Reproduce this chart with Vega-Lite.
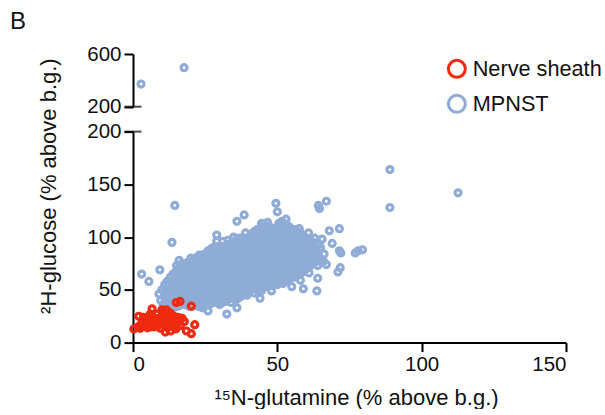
{"$schema":"https://vega.github.io/schema/vega-lite/v6.json","background":"white","padding":{"left":9,"top":10,"right":0,"bottom":0},"bounds":"flush",
"title":{"text":"B","anchor":"start","frame":"bounds","fontSize":24,"font":"Liberation Sans","fontWeight":"normal","color":"#111","offset":10,"dx":-27},
"config":{"view":{"stroke":null},"font":"Liberation Sans","axis":{"grid":false,"domainColor":"#000","tickColor":"#000","domainWidth":2,"tickWidth":2,"tickSize":9,"labelFontSize":20.5,"labelColor":"#111","titleColor":"#111","labelFont":"Liberation Sans","titleFont":"Liberation Sans","titleFontWeight":"normal","titleFontSize":22,"labelPadding":3}},
"datasets":{"pts":[
{"g":"MPNST","x":2.8,"y":372},{"g":"MPNST","x":17.7,"y":496},{"g":"MPNST","x":89,"y":164},{"g":"MPNST","x":89,"y":128},{"g":"MPNST","x":112.6,"y":142},{"g":"MPNST","x":3,"y":65},{"g":"MPNST","x":5.5,"y":58},{"g":"MPNST","x":9.3,"y":69},{"g":"MPNST","x":13.5,"y":95},{"g":"MPNST","x":14.5,"y":130},{"g":"MPNST","x":49.5,"y":132},{"g":"MPNST","x":50,"y":124},{"g":"MPNST","x":64.2,"y":130},{"g":"MPNST","x":64.6,"y":127},{"g":"MPNST","x":67,"y":134},{"g":"MPNST","x":38.5,"y":121},{"g":"MPNST","x":36,"y":115},{"g":"MPNST","x":39,"y":104},{"g":"MPNST","x":71.5,"y":108},{"g":"MPNST","x":68,"y":106},{"g":"MPNST","x":69,"y":94},{"g":"MPNST","x":71.5,"y":87},{"g":"MPNST","x":72,"y":85},{"g":"MPNST","x":77,"y":85},{"g":"MPNST","x":78,"y":87},{"g":"MPNST","x":79.5,"y":88},{"g":"MPNST","x":71.8,"y":71},{"g":"MPNST","x":71,"y":67},{"g":"MPNST","x":64,"y":61},{"g":"MPNST","x":63.7,"y":49},{"g":"MPNST","x":59,"y":51},{"g":"MPNST","x":61,"y":66},{"g":"MPNST","x":55,"y":53},{"g":"MPNST","x":48,"y":49},{"g":"MPNST","x":44,"y":42},{"g":"MPNST","x":44.5,"y":49},{"g":"MPNST","x":39.5,"y":45},{"g":"MPNST","x":36,"y":33},{"g":"MPNST","x":32.5,"y":27},{"g":"MPNST","x":26,"y":30},{"g":"MPNST","x":34,"y":38},{"g":"MPNST","x":29,"y":102},{"g":"MPNST","x":31,"y":96},{"g":"MPNST","x":16,"y":78},
{"g":"MPNST","x":9,"y":46},{"g":"MPNST","x":9.6,"y":40},{"g":"MPNST","x":10,"y":50},{"g":"MPNST","x":10.4,"y":36},{"g":"MPNST","x":11,"y":44},
{"g":"MPNST","x":12,"y":34},{"g":"MPNST","x":11.6,"y":39},{"g":"MPNST","x":12.2,"y":48},{"g":"MPNST","x":12.4,"y":53},{"g":"MPNST","x":11.8,"y":58},{"g":"MPNST","x":13,"y":43},
{"g":"MPNST","x":14,"y":33},{"g":"MPNST","x":14.2,"y":38},{"g":"MPNST","x":13.8,"y":47},{"g":"MPNST","x":14.3,"y":51},{"g":"MPNST","x":14,"y":55},{"g":"MPNST","x":14.4,"y":60},{"g":"MPNST","x":13.9,"y":65},{"g":"MPNST","x":15,"y":42},
{"g":"MPNST","x":16,"y":35},{"g":"MPNST","x":16.2,"y":39},{"g":"MPNST","x":16.4,"y":46},{"g":"MPNST","x":15.8,"y":50},{"g":"MPNST","x":16.1,"y":54},{"g":"MPNST","x":16.3,"y":58},{"g":"MPNST","x":15.9,"y":62},{"g":"MPNST","x":16.2,"y":66},{"g":"MPNST","x":16,"y":71},
{"g":"MPNST","x":18,"y":36},{"g":"MPNST","x":18.3,"y":41},{"g":"MPNST","x":17.8,"y":44},{"g":"MPNST","x":18.2,"y":48},{"g":"MPNST","x":18,"y":52},{"g":"MPNST","x":18.4,"y":56},{"g":"MPNST","x":17.9,"y":60},{"g":"MPNST","x":18.2,"y":64},{"g":"MPNST","x":18,"y":68},{"g":"MPNST","x":18.3,"y":73},
{"g":"MPNST","x":20,"y":34},{"g":"MPNST","x":20.2,"y":38},{"g":"MPNST","x":19.8,"y":42},{"g":"MPNST","x":20.3,"y":46},{"g":"MPNST","x":20,"y":50},{"g":"MPNST","x":19.8,"y":54},{"g":"MPNST","x":20.2,"y":58},{"g":"MPNST","x":20,"y":62},{"g":"MPNST","x":20.4,"y":66},{"g":"MPNST","x":19.9,"y":70},{"g":"MPNST","x":20.1,"y":74},{"g":"MPNST","x":20,"y":80},
{"g":"MPNST","x":22,"y":35},{"g":"MPNST","x":22.3,"y":40},{"g":"MPNST","x":21.8,"y":44},{"g":"MPNST","x":22.1,"y":48},{"g":"MPNST","x":22.4,"y":52},{"g":"MPNST","x":21.9,"y":56},{"g":"MPNST","x":22.2,"y":60},{"g":"MPNST","x":22,"y":64},{"g":"MPNST","x":22.3,"y":68},{"g":"MPNST","x":21.8,"y":72},{"g":"MPNST","x":22.1,"y":76},{"g":"MPNST","x":22.2,"y":81},
{"g":"MPNST","x":24,"y":33},{"g":"MPNST","x":24.2,"y":38},{"g":"MPNST","x":23.8,"y":42},{"g":"MPNST","x":24.3,"y":46},{"g":"MPNST","x":24,"y":50},{"g":"MPNST","x":24.2,"y":54},{"g":"MPNST","x":23.8,"y":58},{"g":"MPNST","x":24.1,"y":62},{"g":"MPNST","x":24.4,"y":66},{"g":"MPNST","x":23.9,"y":70},{"g":"MPNST","x":24.2,"y":74},{"g":"MPNST","x":24,"y":78},{"g":"MPNST","x":24.1,"y":83},
{"g":"MPNST","x":26,"y":36},{"g":"MPNST","x":26.3,"y":41},{"g":"MPNST","x":25.8,"y":45},{"g":"MPNST","x":26.1,"y":49},{"g":"MPNST","x":26.4,"y":53},{"g":"MPNST","x":25.9,"y":57},{"g":"MPNST","x":26.2,"y":61},{"g":"MPNST","x":26,"y":65},{"g":"MPNST","x":26.3,"y":69},{"g":"MPNST","x":25.8,"y":73},{"g":"MPNST","x":26.1,"y":77},{"g":"MPNST","x":26.2,"y":81},{"g":"MPNST","x":26,"y":87},
{"g":"MPNST","x":28,"y":38},{"g":"MPNST","x":28.2,"y":42},{"g":"MPNST","x":27.8,"y":46},{"g":"MPNST","x":28.3,"y":50},{"g":"MPNST","x":28,"y":54},{"g":"MPNST","x":28.2,"y":58},{"g":"MPNST","x":27.9,"y":62},{"g":"MPNST","x":28.1,"y":66},{"g":"MPNST","x":28.4,"y":70},{"g":"MPNST","x":27.8,"y":74},{"g":"MPNST","x":28.2,"y":78},{"g":"MPNST","x":28,"y":82},{"g":"MPNST","x":28.1,"y":86},{"g":"MPNST","x":28.3,"y":91},
{"g":"MPNST","x":30,"y":36},{"g":"MPNST","x":30.3,"y":41},{"g":"MPNST","x":29.8,"y":45},{"g":"MPNST","x":30.1,"y":49},{"g":"MPNST","x":30.4,"y":53},{"g":"MPNST","x":29.9,"y":57},{"g":"MPNST","x":30.2,"y":61},{"g":"MPNST","x":30,"y":65},{"g":"MPNST","x":30.3,"y":69},{"g":"MPNST","x":29.8,"y":73},{"g":"MPNST","x":30.1,"y":77},{"g":"MPNST","x":30.2,"y":81},{"g":"MPNST","x":30,"y":85},{"g":"MPNST","x":30.3,"y":89},
{"g":"MPNST","x":32,"y":39},{"g":"MPNST","x":32.2,"y":43},{"g":"MPNST","x":31.8,"y":47},{"g":"MPNST","x":32.3,"y":51},{"g":"MPNST","x":32,"y":55},{"g":"MPNST","x":32.2,"y":59},{"g":"MPNST","x":31.9,"y":63},{"g":"MPNST","x":32.1,"y":67},{"g":"MPNST","x":32.4,"y":71},{"g":"MPNST","x":31.8,"y":75},{"g":"MPNST","x":32.2,"y":79},{"g":"MPNST","x":32,"y":83},{"g":"MPNST","x":32.1,"y":87},{"g":"MPNST","x":32.3,"y":91},
{"g":"MPNST","x":34,"y":42},{"g":"MPNST","x":34.3,"y":46},{"g":"MPNST","x":33.8,"y":50},{"g":"MPNST","x":34.1,"y":54},{"g":"MPNST","x":34.4,"y":58},{"g":"MPNST","x":33.9,"y":62},{"g":"MPNST","x":34.2,"y":66},{"g":"MPNST","x":34,"y":70},{"g":"MPNST","x":34.3,"y":74},{"g":"MPNST","x":33.8,"y":78},{"g":"MPNST","x":34.1,"y":82},{"g":"MPNST","x":34.2,"y":86},{"g":"MPNST","x":34,"y":90},{"g":"MPNST","x":34.3,"y":95},
{"g":"MPNST","x":36,"y":41},{"g":"MPNST","x":36.2,"y":45},{"g":"MPNST","x":35.8,"y":49},{"g":"MPNST","x":36.3,"y":53},{"g":"MPNST","x":36,"y":57},{"g":"MPNST","x":36.2,"y":61},{"g":"MPNST","x":35.9,"y":65},{"g":"MPNST","x":36.1,"y":69},{"g":"MPNST","x":36.4,"y":73},{"g":"MPNST","x":35.8,"y":77},{"g":"MPNST","x":36.2,"y":81},{"g":"MPNST","x":36,"y":85},{"g":"MPNST","x":36.1,"y":89},{"g":"MPNST","x":36.3,"y":93},{"g":"MPNST","x":36,"y":98},
{"g":"MPNST","x":38,"y":45},{"g":"MPNST","x":38.3,"y":49},{"g":"MPNST","x":37.8,"y":53},{"g":"MPNST","x":38.1,"y":57},{"g":"MPNST","x":38.4,"y":61},{"g":"MPNST","x":37.9,"y":65},{"g":"MPNST","x":38.2,"y":69},{"g":"MPNST","x":38,"y":73},{"g":"MPNST","x":38.3,"y":77},{"g":"MPNST","x":37.8,"y":81},{"g":"MPNST","x":38.1,"y":85},{"g":"MPNST","x":38.2,"y":89},{"g":"MPNST","x":38,"y":93},{"g":"MPNST","x":38.3,"y":97},
{"g":"MPNST","x":40,"y":48},{"g":"MPNST","x":40.2,"y":52},{"g":"MPNST","x":39.8,"y":56},{"g":"MPNST","x":40.3,"y":60},{"g":"MPNST","x":40,"y":64},{"g":"MPNST","x":40.2,"y":68},{"g":"MPNST","x":39.9,"y":72},{"g":"MPNST","x":40.1,"y":76},{"g":"MPNST","x":40.4,"y":80},{"g":"MPNST","x":39.8,"y":84},{"g":"MPNST","x":40.2,"y":88},{"g":"MPNST","x":40,"y":92},{"g":"MPNST","x":40.1,"y":96},{"g":"MPNST","x":40.3,"y":100},
{"g":"MPNST","x":42,"y":47},{"g":"MPNST","x":42.3,"y":52},{"g":"MPNST","x":41.8,"y":56},{"g":"MPNST","x":42.1,"y":60},{"g":"MPNST","x":42.4,"y":64},{"g":"MPNST","x":41.9,"y":68},{"g":"MPNST","x":42.2,"y":72},{"g":"MPNST","x":42,"y":76},{"g":"MPNST","x":42.3,"y":80},{"g":"MPNST","x":41.8,"y":84},{"g":"MPNST","x":42.1,"y":88},{"g":"MPNST","x":42.2,"y":92},{"g":"MPNST","x":42,"y":96},{"g":"MPNST","x":42.3,"y":100},{"g":"MPNST","x":42,"y":105},
{"g":"MPNST","x":44,"y":52},{"g":"MPNST","x":44.2,"y":56},{"g":"MPNST","x":43.8,"y":60},{"g":"MPNST","x":44.3,"y":64},{"g":"MPNST","x":44,"y":68},{"g":"MPNST","x":44.2,"y":72},{"g":"MPNST","x":43.9,"y":76},{"g":"MPNST","x":44.1,"y":80},{"g":"MPNST","x":44.4,"y":84},{"g":"MPNST","x":43.8,"y":88},{"g":"MPNST","x":44.2,"y":92},{"g":"MPNST","x":44,"y":96},{"g":"MPNST","x":44.1,"y":100},{"g":"MPNST","x":44.3,"y":104},{"g":"MPNST","x":44.5,"y":113},{"g":"MPNST","x":44.2,"y":108},
{"g":"MPNST","x":46,"y":53},{"g":"MPNST","x":46.3,"y":57},{"g":"MPNST","x":45.8,"y":61},{"g":"MPNST","x":46.1,"y":65},{"g":"MPNST","x":46.4,"y":69},{"g":"MPNST","x":45.9,"y":73},{"g":"MPNST","x":46.2,"y":77},{"g":"MPNST","x":46,"y":81},{"g":"MPNST","x":46.3,"y":85},{"g":"MPNST","x":45.8,"y":89},{"g":"MPNST","x":46.1,"y":93},{"g":"MPNST","x":46.2,"y":97},{"g":"MPNST","x":46,"y":101},{"g":"MPNST","x":46.3,"y":105},{"g":"MPNST","x":46.6,"y":114},{"g":"MPNST","x":46,"y":109},
{"g":"MPNST","x":48,"y":54},{"g":"MPNST","x":48.2,"y":58},{"g":"MPNST","x":47.8,"y":62},{"g":"MPNST","x":48.3,"y":66},{"g":"MPNST","x":48,"y":70},{"g":"MPNST","x":48.2,"y":74},{"g":"MPNST","x":47.9,"y":78},{"g":"MPNST","x":48.1,"y":82},{"g":"MPNST","x":48.4,"y":86},{"g":"MPNST","x":47.8,"y":90},{"g":"MPNST","x":48.2,"y":94},{"g":"MPNST","x":48,"y":98},{"g":"MPNST","x":48.1,"y":102},{"g":"MPNST","x":48.3,"y":106},
{"g":"MPNST","x":50,"y":55},{"g":"MPNST","x":50.3,"y":60},{"g":"MPNST","x":49.8,"y":64},{"g":"MPNST","x":50.1,"y":68},{"g":"MPNST","x":50.4,"y":72},{"g":"MPNST","x":49.9,"y":76},{"g":"MPNST","x":50.2,"y":80},{"g":"MPNST","x":50,"y":84},{"g":"MPNST","x":50.3,"y":88},{"g":"MPNST","x":49.8,"y":92},{"g":"MPNST","x":50.1,"y":96},{"g":"MPNST","x":50.2,"y":100},{"g":"MPNST","x":50,"y":104},{"g":"MPNST","x":50.3,"y":108},{"g":"MPNST","x":50.5,"y":113},
{"g":"MPNST","x":52,"y":56},{"g":"MPNST","x":52.2,"y":60},{"g":"MPNST","x":51.8,"y":65},{"g":"MPNST","x":52.3,"y":69},{"g":"MPNST","x":52,"y":73},{"g":"MPNST","x":52.2,"y":77},{"g":"MPNST","x":51.9,"y":81},{"g":"MPNST","x":52.1,"y":85},{"g":"MPNST","x":52.4,"y":89},{"g":"MPNST","x":51.8,"y":93},{"g":"MPNST","x":52.2,"y":97},{"g":"MPNST","x":52,"y":101},{"g":"MPNST","x":52.1,"y":105},{"g":"MPNST","x":52.3,"y":110},{"g":"MPNST","x":53,"y":117},
{"g":"MPNST","x":54,"y":60},{"g":"MPNST","x":54.3,"y":65},{"g":"MPNST","x":53.8,"y":69},{"g":"MPNST","x":54.1,"y":73},{"g":"MPNST","x":54.4,"y":77},{"g":"MPNST","x":53.9,"y":81},{"g":"MPNST","x":54.2,"y":85},{"g":"MPNST","x":54,"y":89},{"g":"MPNST","x":54.3,"y":93},{"g":"MPNST","x":53.8,"y":97},{"g":"MPNST","x":54.1,"y":101},{"g":"MPNST","x":54.2,"y":105},{"g":"MPNST","x":54,"y":110},
{"g":"MPNST","x":56,"y":62},{"g":"MPNST","x":56.2,"y":67},{"g":"MPNST","x":55.8,"y":71},{"g":"MPNST","x":56.3,"y":75},{"g":"MPNST","x":56,"y":79},{"g":"MPNST","x":56.2,"y":83},{"g":"MPNST","x":55.9,"y":87},{"g":"MPNST","x":56.1,"y":91},{"g":"MPNST","x":56.4,"y":95},{"g":"MPNST","x":55.8,"y":99},{"g":"MPNST","x":56.2,"y":103},{"g":"MPNST","x":56,"y":107},
{"g":"MPNST","x":58,"y":59},{"g":"MPNST","x":58.3,"y":66},{"g":"MPNST","x":57.8,"y":72},{"g":"MPNST","x":58.1,"y":76},{"g":"MPNST","x":58.4,"y":80},{"g":"MPNST","x":57.9,"y":84},{"g":"MPNST","x":58.2,"y":88},{"g":"MPNST","x":58,"y":92},{"g":"MPNST","x":58.3,"y":96},{"g":"MPNST","x":57.8,"y":100},{"g":"MPNST","x":57.6,"y":108},{"g":"MPNST","x":58.1,"y":104},
{"g":"MPNST","x":60,"y":70},{"g":"MPNST","x":60.2,"y":75},{"g":"MPNST","x":59.8,"y":79},{"g":"MPNST","x":60.3,"y":83},{"g":"MPNST","x":60,"y":87},{"g":"MPNST","x":60.2,"y":91},{"g":"MPNST","x":59.9,"y":95},{"g":"MPNST","x":60.1,"y":99},{"g":"MPNST","x":60.8,"y":104},
{"g":"MPNST","x":62,"y":74},{"g":"MPNST","x":62.3,"y":79},{"g":"MPNST","x":61.8,"y":83},{"g":"MPNST","x":62.1,"y":87},{"g":"MPNST","x":62.4,"y":91},{"g":"MPNST","x":63,"y":99},{"g":"MPNST","x":62.5,"y":95},
{"g":"MPNST","x":64,"y":73},{"g":"MPNST","x":64.2,"y":80},{"g":"MPNST","x":63.8,"y":85},{"g":"MPNST","x":65.5,"y":98},{"g":"MPNST","x":66,"y":77},{"g":"MPNST","x":67,"y":74},{"g":"MPNST","x":66.2,"y":84},{"g":"MPNST","x":65,"y":90},
{"g":"MPNST","x":11,"y":38},{"g":"MPNST","x":11.1,"y":42},{"g":"MPNST","x":10.9,"y":47},{"g":"MPNST","x":11.2,"y":51},{"g":"MPNST","x":11,"y":55},
{"g":"MPNST","x":13,"y":36},{"g":"MPNST","x":13.1,"y":40},{"g":"MPNST","x":12.9,"y":46},{"g":"MPNST","x":13.2,"y":50},{"g":"MPNST","x":13,"y":55},{"g":"MPNST","x":13.1,"y":58},{"g":"MPNST","x":12.9,"y":62},
{"g":"MPNST","x":15,"y":34},{"g":"MPNST","x":15.1,"y":37},{"g":"MPNST","x":14.9,"y":45},{"g":"MPNST","x":15.2,"y":49},{"g":"MPNST","x":15,"y":53},{"g":"MPNST","x":15.1,"y":57},{"g":"MPNST","x":14.9,"y":61},{"g":"MPNST","x":15.2,"y":64},{"g":"MPNST","x":15,"y":68},{"g":"MPNST","x":15.1,"y":73},
{"g":"MPNST","x":17,"y":37},{"g":"MPNST","x":17.1,"y":41},{"g":"MPNST","x":16.9,"y":44},{"g":"MPNST","x":17.2,"y":48},{"g":"MPNST","x":17,"y":52},{"g":"MPNST","x":17.1,"y":56},{"g":"MPNST","x":16.9,"y":60},{"g":"MPNST","x":17.2,"y":64},{"g":"MPNST","x":17,"y":68},{"g":"MPNST","x":17.1,"y":72},{"g":"MPNST","x":17,"y":75},
{"g":"MPNST","x":19,"y":35},{"g":"MPNST","x":19.1,"y":39},{"g":"MPNST","x":18.9,"y":43},{"g":"MPNST","x":19.2,"y":47},{"g":"MPNST","x":19,"y":51},{"g":"MPNST","x":19.1,"y":55},{"g":"MPNST","x":18.9,"y":59},{"g":"MPNST","x":19.2,"y":63},{"g":"MPNST","x":19,"y":67},{"g":"MPNST","x":19.1,"y":71},{"g":"MPNST","x":18.9,"y":76},
{"g":"MPNST","x":21,"y":36},{"g":"MPNST","x":21.1,"y":40},{"g":"MPNST","x":20.9,"y":44},{"g":"MPNST","x":21.2,"y":48},{"g":"MPNST","x":21,"y":52},{"g":"MPNST","x":21.1,"y":56},{"g":"MPNST","x":20.9,"y":60},{"g":"MPNST","x":21.2,"y":64},{"g":"MPNST","x":21,"y":68},{"g":"MPNST","x":21.1,"y":72},{"g":"MPNST","x":20.9,"y":76},{"g":"MPNST","x":21.2,"y":79},
{"g":"MPNST","x":23,"y":34},{"g":"MPNST","x":23.1,"y":38},{"g":"MPNST","x":22.9,"y":42},{"g":"MPNST","x":23.2,"y":46},{"g":"MPNST","x":23,"y":50},{"g":"MPNST","x":23.1,"y":54},{"g":"MPNST","x":22.9,"y":58},{"g":"MPNST","x":23.2,"y":62},{"g":"MPNST","x":23,"y":66},{"g":"MPNST","x":23.1,"y":70},{"g":"MPNST","x":22.9,"y":74},{"g":"MPNST","x":23.2,"y":78},{"g":"MPNST","x":23,"y":83},
{"g":"MPNST","x":25,"y":35},{"g":"MPNST","x":25.1,"y":39},{"g":"MPNST","x":24.9,"y":43},{"g":"MPNST","x":25.2,"y":47},{"g":"MPNST","x":25,"y":51},{"g":"MPNST","x":25.1,"y":55},{"g":"MPNST","x":24.9,"y":59},{"g":"MPNST","x":25.2,"y":63},{"g":"MPNST","x":25,"y":67},{"g":"MPNST","x":25.1,"y":71},{"g":"MPNST","x":24.9,"y":75},{"g":"MPNST","x":25.2,"y":79},{"g":"MPNST","x":25,"y":84},
{"g":"MPNST","x":27,"y":37},{"g":"MPNST","x":27.1,"y":40},{"g":"MPNST","x":26.9,"y":44},{"g":"MPNST","x":27.2,"y":48},{"g":"MPNST","x":27,"y":52},{"g":"MPNST","x":27.1,"y":56},{"g":"MPNST","x":26.9,"y":60},{"g":"MPNST","x":27.2,"y":64},{"g":"MPNST","x":27,"y":68},{"g":"MPNST","x":27.1,"y":72},{"g":"MPNST","x":26.9,"y":76},{"g":"MPNST","x":27.2,"y":80},{"g":"MPNST","x":27,"y":84},{"g":"MPNST","x":27.1,"y":89},
{"g":"MPNST","x":29,"y":38},{"g":"MPNST","x":29.1,"y":43},{"g":"MPNST","x":28.9,"y":47},{"g":"MPNST","x":29.2,"y":51},{"g":"MPNST","x":29,"y":55},{"g":"MPNST","x":29.1,"y":59},{"g":"MPNST","x":28.9,"y":63},{"g":"MPNST","x":29.2,"y":67},{"g":"MPNST","x":29,"y":71},{"g":"MPNST","x":29.1,"y":75},{"g":"MPNST","x":28.9,"y":79},{"g":"MPNST","x":29.2,"y":83},{"g":"MPNST","x":29,"y":87},{"g":"MPNST","x":29.1,"y":91},{"g":"MPNST","x":29,"y":96},
{"g":"MPNST","x":31,"y":38},{"g":"MPNST","x":31.1,"y":43},{"g":"MPNST","x":30.9,"y":47},{"g":"MPNST","x":31.2,"y":51},{"g":"MPNST","x":31,"y":55},{"g":"MPNST","x":31.1,"y":59},{"g":"MPNST","x":30.9,"y":63},{"g":"MPNST","x":31.2,"y":67},{"g":"MPNST","x":31,"y":71},{"g":"MPNST","x":31.1,"y":75},{"g":"MPNST","x":30.9,"y":79},{"g":"MPNST","x":31.2,"y":83},{"g":"MPNST","x":31,"y":87},{"g":"MPNST","x":31.1,"y":91},
{"g":"MPNST","x":33,"y":41},{"g":"MPNST","x":33.1,"y":45},{"g":"MPNST","x":32.9,"y":49},{"g":"MPNST","x":33.2,"y":53},{"g":"MPNST","x":33,"y":57},{"g":"MPNST","x":33.1,"y":61},{"g":"MPNST","x":32.9,"y":65},{"g":"MPNST","x":33.2,"y":69},{"g":"MPNST","x":33,"y":73},{"g":"MPNST","x":33.1,"y":77},{"g":"MPNST","x":32.9,"y":81},{"g":"MPNST","x":33.2,"y":85},{"g":"MPNST","x":33,"y":89},{"g":"MPNST","x":33.1,"y":93},{"g":"MPNST","x":32.9,"y":97},
{"g":"MPNST","x":35,"y":43},{"g":"MPNST","x":35.1,"y":47},{"g":"MPNST","x":34.9,"y":51},{"g":"MPNST","x":35.2,"y":55},{"g":"MPNST","x":35,"y":59},{"g":"MPNST","x":35.1,"y":63},{"g":"MPNST","x":34.9,"y":67},{"g":"MPNST","x":35.2,"y":71},{"g":"MPNST","x":35,"y":75},{"g":"MPNST","x":35.1,"y":79},{"g":"MPNST","x":34.9,"y":83},{"g":"MPNST","x":35.2,"y":87},{"g":"MPNST","x":35,"y":91},{"g":"MPNST","x":35.1,"y":95},{"g":"MPNST","x":34.9,"y":100},
{"g":"MPNST","x":37,"y":43},{"g":"MPNST","x":37.1,"y":47},{"g":"MPNST","x":36.9,"y":51},{"g":"MPNST","x":37.2,"y":55},{"g":"MPNST","x":37,"y":59},{"g":"MPNST","x":37.1,"y":63},{"g":"MPNST","x":36.9,"y":67},{"g":"MPNST","x":37.2,"y":71},{"g":"MPNST","x":37,"y":75},{"g":"MPNST","x":37.1,"y":79},{"g":"MPNST","x":36.9,"y":83},{"g":"MPNST","x":37.2,"y":87},{"g":"MPNST","x":37,"y":91},{"g":"MPNST","x":37.1,"y":95},{"g":"MPNST","x":36.9,"y":99},
{"g":"MPNST","x":39,"y":47},{"g":"MPNST","x":39.1,"y":51},{"g":"MPNST","x":38.9,"y":55},{"g":"MPNST","x":39.2,"y":59},{"g":"MPNST","x":39,"y":63},{"g":"MPNST","x":39.1,"y":67},{"g":"MPNST","x":38.9,"y":71},{"g":"MPNST","x":39.2,"y":75},{"g":"MPNST","x":39,"y":79},{"g":"MPNST","x":39.1,"y":83},{"g":"MPNST","x":38.9,"y":87},{"g":"MPNST","x":39.2,"y":91},{"g":"MPNST","x":39,"y":95},{"g":"MPNST","x":39.1,"y":99},
{"g":"MPNST","x":41,"y":50},{"g":"MPNST","x":41.1,"y":54},{"g":"MPNST","x":40.9,"y":58},{"g":"MPNST","x":41.2,"y":62},{"g":"MPNST","x":41,"y":66},{"g":"MPNST","x":41.1,"y":70},{"g":"MPNST","x":40.9,"y":74},{"g":"MPNST","x":41.2,"y":78},{"g":"MPNST","x":41,"y":82},{"g":"MPNST","x":41.1,"y":86},{"g":"MPNST","x":40.9,"y":90},{"g":"MPNST","x":41.2,"y":94},{"g":"MPNST","x":41,"y":98},{"g":"MPNST","x":41.1,"y":103},
{"g":"MPNST","x":43,"y":50},{"g":"MPNST","x":43.1,"y":54},{"g":"MPNST","x":42.9,"y":58},{"g":"MPNST","x":43.2,"y":62},{"g":"MPNST","x":43,"y":66},{"g":"MPNST","x":43.1,"y":70},{"g":"MPNST","x":42.9,"y":74},{"g":"MPNST","x":43.2,"y":78},{"g":"MPNST","x":43,"y":82},{"g":"MPNST","x":43.1,"y":86},{"g":"MPNST","x":42.9,"y":90},{"g":"MPNST","x":43.2,"y":94},{"g":"MPNST","x":43,"y":98},{"g":"MPNST","x":43.1,"y":102},{"g":"MPNST","x":42.9,"y":107},
{"g":"MPNST","x":45,"y":52},{"g":"MPNST","x":45.1,"y":55},{"g":"MPNST","x":44.9,"y":59},{"g":"MPNST","x":45.2,"y":63},{"g":"MPNST","x":45,"y":67},{"g":"MPNST","x":45.1,"y":71},{"g":"MPNST","x":44.9,"y":75},{"g":"MPNST","x":45.2,"y":79},{"g":"MPNST","x":45,"y":83},{"g":"MPNST","x":45.1,"y":87},{"g":"MPNST","x":44.9,"y":91},{"g":"MPNST","x":45.2,"y":95},{"g":"MPNST","x":45,"y":99},{"g":"MPNST","x":45.1,"y":103},{"g":"MPNST","x":44.9,"y":107},{"g":"MPNST","x":45.2,"y":111},
{"g":"MPNST","x":47,"y":55},{"g":"MPNST","x":47.1,"y":59},{"g":"MPNST","x":46.9,"y":63},{"g":"MPNST","x":47.2,"y":67},{"g":"MPNST","x":47,"y":71},{"g":"MPNST","x":47.1,"y":75},{"g":"MPNST","x":46.9,"y":79},{"g":"MPNST","x":47.2,"y":83},{"g":"MPNST","x":47,"y":87},{"g":"MPNST","x":47.1,"y":91},{"g":"MPNST","x":46.9,"y":95},{"g":"MPNST","x":47.2,"y":99},{"g":"MPNST","x":47,"y":103},{"g":"MPNST","x":47.1,"y":107},{"g":"MPNST","x":47,"y":111},
{"g":"MPNST","x":49,"y":56},{"g":"MPNST","x":49.1,"y":60},{"g":"MPNST","x":48.9,"y":64},{"g":"MPNST","x":49.2,"y":68},{"g":"MPNST","x":49,"y":72},{"g":"MPNST","x":49.1,"y":76},{"g":"MPNST","x":48.9,"y":80},{"g":"MPNST","x":49.2,"y":84},{"g":"MPNST","x":49,"y":88},{"g":"MPNST","x":49.1,"y":92},{"g":"MPNST","x":48.9,"y":96},{"g":"MPNST","x":49.2,"y":100},{"g":"MPNST","x":49,"y":104},{"g":"MPNST","x":49.1,"y":108},
{"g":"MPNST","x":51,"y":58},{"g":"MPNST","x":51.1,"y":62},{"g":"MPNST","x":50.9,"y":66},{"g":"MPNST","x":51.2,"y":70},{"g":"MPNST","x":51,"y":74},{"g":"MPNST","x":51.1,"y":78},{"g":"MPNST","x":50.9,"y":82},{"g":"MPNST","x":51.2,"y":86},{"g":"MPNST","x":51,"y":90},{"g":"MPNST","x":51.1,"y":94},{"g":"MPNST","x":50.9,"y":98},{"g":"MPNST","x":51.2,"y":102},{"g":"MPNST","x":51,"y":106},{"g":"MPNST","x":51.1,"y":111},{"g":"MPNST","x":51.6,"y":115},
{"g":"MPNST","x":53,"y":58},{"g":"MPNST","x":53.1,"y":63},{"g":"MPNST","x":52.9,"y":67},{"g":"MPNST","x":53.2,"y":71},{"g":"MPNST","x":53,"y":75},{"g":"MPNST","x":53.1,"y":79},{"g":"MPNST","x":52.9,"y":83},{"g":"MPNST","x":53.2,"y":87},{"g":"MPNST","x":53,"y":91},{"g":"MPNST","x":53.1,"y":95},{"g":"MPNST","x":52.9,"y":99},{"g":"MPNST","x":53.2,"y":103},{"g":"MPNST","x":53,"y":107},{"g":"MPNST","x":53.1,"y":112},
{"g":"MPNST","x":55,"y":62},{"g":"MPNST","x":55.1,"y":67},{"g":"MPNST","x":54.9,"y":71},{"g":"MPNST","x":55.2,"y":75},{"g":"MPNST","x":55,"y":79},{"g":"MPNST","x":55.1,"y":83},{"g":"MPNST","x":54.9,"y":87},{"g":"MPNST","x":55.2,"y":91},{"g":"MPNST","x":55,"y":95},{"g":"MPNST","x":55.1,"y":99},{"g":"MPNST","x":54.9,"y":103},{"g":"MPNST","x":55.2,"y":107},
{"g":"MPNST","x":57,"y":64},{"g":"MPNST","x":57.1,"y":69},{"g":"MPNST","x":56.9,"y":73},{"g":"MPNST","x":57.2,"y":77},{"g":"MPNST","x":57,"y":81},{"g":"MPNST","x":57.1,"y":85},{"g":"MPNST","x":56.9,"y":89},{"g":"MPNST","x":57.2,"y":93},{"g":"MPNST","x":57,"y":97},{"g":"MPNST","x":57.1,"y":101},{"g":"MPNST","x":56.9,"y":105},
{"g":"MPNST","x":59,"y":68},{"g":"MPNST","x":59.1,"y":73},{"g":"MPNST","x":58.9,"y":77},{"g":"MPNST","x":59.2,"y":81},{"g":"MPNST","x":59,"y":85},{"g":"MPNST","x":59.1,"y":89},{"g":"MPNST","x":58.9,"y":93},{"g":"MPNST","x":59.2,"y":97},{"g":"MPNST","x":59,"y":101},
{"g":"MPNST","x":61,"y":72},{"g":"MPNST","x":61.1,"y":77},{"g":"MPNST","x":60.9,"y":81},{"g":"MPNST","x":61.2,"y":85},{"g":"MPNST","x":61,"y":89},{"g":"MPNST","x":61.1,"y":93},{"g":"MPNST","x":60.9,"y":97},
{"g":"MPNST","x":63,"y":76},{"g":"MPNST","x":63.1,"y":81},{"g":"MPNST","x":62.9,"y":85},{"g":"MPNST","x":63.2,"y":89},{"g":"MPNST","x":64.5,"y":93},{"g":"MPNST","x":65,"y":79},
{"g":"Nerve sheath","x":0.3,"y":13},{"g":"Nerve sheath","x":2,"y":25},{"g":"Nerve sheath","x":6.6,"y":32},{"g":"Nerve sheath","x":10,"y":31},{"g":"Nerve sheath","x":10.6,"y":29},{"g":"Nerve sheath","x":15,"y":38},{"g":"Nerve sheath","x":16.3,"y":39},{"g":"Nerve sheath","x":20.2,"y":34.5},{"g":"Nerve sheath","x":21.4,"y":17},{"g":"Nerve sheath","x":18.5,"y":11},{"g":"Nerve sheath","x":20.2,"y":8.5},{"g":"Nerve sheath","x":17,"y":23},{"g":"Nerve sheath","x":9.5,"y":13.5},{"g":"Nerve sheath","x":11.2,"y":10},{"g":"Nerve sheath","x":13,"y":11},
{"g":"Nerve sheath","x":1.8,"y":15},{"g":"Nerve sheath","x":3,"y":18},{"g":"Nerve sheath","x":2.5,"y":13.5},{"g":"Nerve sheath","x":4,"y":16},{"g":"Nerve sheath","x":4.4,"y":21},{"g":"Nerve sheath","x":3.6,"y":24},{"g":"Nerve sheath","x":5,"y":14},{"g":"Nerve sheath","x":5.6,"y":18},{"g":"Nerve sheath","x":5.3,"y":24},{"g":"Nerve sheath","x":6,"y":27},{"g":"Nerve sheath","x":6.4,"y":15},{"g":"Nerve sheath","x":6.9,"y":20},{"g":"Nerve sheath","x":7,"y":24},{"g":"Nerve sheath","x":7.8,"y":18},{"g":"Nerve sheath","x":8,"y":22},{"g":"Nerve sheath","x":8.3,"y":27},{"g":"Nerve sheath","x":9.2,"y":20},{"g":"Nerve sheath","x":9.5,"y":24},{"g":"Nerve sheath","x":10.8,"y":17},{"g":"Nerve sheath","x":11,"y":21},{"g":"Nerve sheath","x":11.2,"y":25},{"g":"Nerve sheath","x":11.6,"y":31},{"g":"Nerve sheath","x":12,"y":14},{"g":"Nerve sheath","x":12.4,"y":18},{"g":"Nerve sheath","x":12.5,"y":23},{"g":"Nerve sheath","x":12.9,"y":28},{"g":"Nerve sheath","x":13.6,"y":16},{"g":"Nerve sheath","x":14,"y":20},{"g":"Nerve sheath","x":14.2,"y":25},{"g":"Nerve sheath","x":14.8,"y":13},{"g":"Nerve sheath","x":15.4,"y":18},{"g":"Nerve sheath","x":15.6,"y":24},{"g":"Nerve sheath","x":16.4,"y":16},{"g":"Nerve sheath","x":17.8,"y":20},{"g":"Nerve sheath","x":3.2,"y":20},{"g":"Nerve sheath","x":4.8,"y":18},{"g":"Nerve sheath","x":6,"y":22},{"g":"Nerve sheath","x":7.4,"y":15},{"g":"Nerve sheath","x":8.6,"y":16},{"g":"Nerve sheath","x":10,"y":23},{"g":"Nerve sheath","x":13,"y":21},{"g":"Nerve sheath","x":13.4,"y":25},{"g":"Nerve sheath","x":14.6,"y":16},{"g":"Nerve sheath","x":16,"y":21}
]},
"vconcat":[
{"width":433,"height":52.7,"layer":[
{"data":{"name":"pts"},"transform":[{"filter":"datum.y>200"}],"mark":{"type":"point","filled":false,"size":36,"strokeWidth":3.2,"opacity":1,"clip":false},
"encoding":{"x":{"field":"x","type":"quantitative","scale":{"domain":[0,150],"nice":false},"axis":null},
"y":{"field":"y","type":"quantitative","scale":{"domain":[200,600],"nice":false,"zero":false},"axis":{"values":[200,600],"title":null}},
"color":{"field":"g","type":"nominal","scale":{"domain":["Nerve sheath","MPNST"],"range":["#F02A10","#8FACD6"]},
"legend":{"orient":"none","legendX":313,"legendY":4,"title":null,"labelFontSize":21.7,"labelFont":"Liberation Sans","labelColor":"#111","symbolSize":289,"symbolStrokeWidth":3,"symbolType":"circle","rowPadding":5,"labelOffset":5,"symbolOpacity":1}}}},
{"data":{"values":[{"x":0,"y":200}]},"mark":{"type":"tick","orient":"horizontal","size":17,"thickness":2,"color":"#000","clip":false},"encoding":{"x":{"field":"x","type":"quantitative"},"y":{"field":"y","type":"quantitative"}}}
]},
{"width":433,"height":211,"layer":[
{"data":{"name":"pts"},"transform":[{"filter":"datum.y<=200"}],"mark":{"type":"point","filled":false,"size":36,"strokeWidth":3.2,"opacity":1,"clip":false},
"encoding":{"x":{"field":"x","type":"quantitative","scale":{"domain":[0,150],"nice":false},"axis":{"values":[0,50,100,150],"title":"¹⁵N-glutamine (% above b.g.)","titlePadding":12,"titleX":223}},
"y":{"field":"y","type":"quantitative","scale":{"domain":[0,200],"nice":false},"axis":{"values":[0,50,100,150,200],"title":"²H-glucose (% above b.g.)","titleX":-73,"titleY":54}},
"color":{"field":"g","type":"nominal","scale":{"domain":["Nerve sheath","MPNST"],"range":["#F02A10","#8FACD6"]},"legend":null}}},
{"data":{"values":[{"x":0,"y":200}]},"mark":{"type":"tick","orient":"horizontal","size":17,"thickness":2,"color":"#000","clip":false},"encoding":{"x":{"field":"x","type":"quantitative"},"y":{"field":"y","type":"quantitative"}}}
]}
],"spacing":24.6,"resolve":{"scale":{"color":"independent","x":"independent","y":"independent"}}}
